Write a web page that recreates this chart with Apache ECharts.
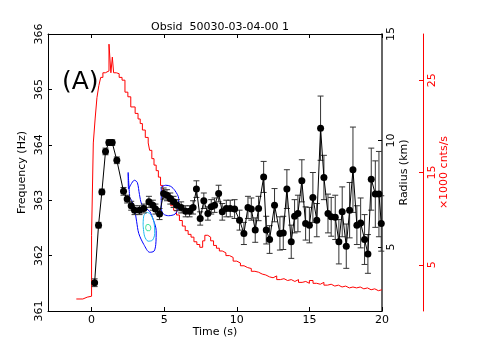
<!DOCTYPE html>
<html>
<head>
<meta charset="utf-8">
<script src="https://cdn.jsdelivr.net/npm/echarts@6/dist/echarts.min.js"></script>
<style>
  html, body { margin: 0; padding: 0; background: #fff; }
  #main { width: 479px; height: 346px; }
</style>
</head>
<body>
<div id="main"></div>
<script>
// burst oscillation frequency (black points) + count rate (red histogram)
var freqTime = [0.21, 0.48, 0.71, 0.96, 1.19, 1.42, 1.74, 2.2, 2.45, 2.73, 2.96, 3.3, 3.6, 3.95, 4.22, 4.4, 4.68, 4.96, 5.19, 5.42,
  5.65, 5.88, 6.17, 6.48, 6.75, 6.99, 7.22, 7.48, 7.73, 8.01, 8.24, 8.47, 8.75, 9.0, 9.28, 9.55, 9.85, 10.19, 10.49, 10.77,
  11.0, 11.27, 11.5, 11.85, 12.03, 12.26, 12.6, 12.97, 13.2, 13.45, 13.75, 13.98, 14.21, 14.48, 14.74, 15.0, 15.24, 15.51, 15.77, 16.0,
  16.28, 16.5, 16.78, 17.03, 17.26, 17.54, 17.77, 18.0, 18.27, 18.53, 18.8, 19.03, 19.26, 19.54, 19.79, 19.95]
var freqVal = [361.51, 362.55, 363.15, 363.88, 364.04, 364.04, 363.72, 363.16, 363.02, 362.9, 362.82, 362.82, 362.85, 362.97, 362.91, 362.84, 362.75, 363.12, 363.09, 363.03,
  362.97, 362.91, 362.87, 362.8, 362.8, 362.87, 363.2, 362.67, 362.99, 362.76, 362.88, 362.91, 363.12, 362.79, 362.85, 362.85, 362.84, 362.64, 362.4, 362.87,
  362.84, 362.46, 362.85, 363.42, 362.46, 362.29, 362.91, 362.4, 362.41, 363.2, 362.25, 362.71, 362.76, 363.35, 362.58, 362.55, 363.05, 362.64, 364.3, 363.41,
  362.76, 362.7, 362.69, 362.25, 362.79, 362.17, 362.82, 363.55, 362.55, 362.59, 362.29, 362.03, 363.38, 363.11, 363.11, 362.58]
var freqErr = [0.07, 0.05, 0.05, 0.06, 0.05, 0.05, 0.06, 0.07, 0.07, 0.08, 0.08, 0.08, 0.08, 0.1, 0.09, 0.09, 0.1, 0.1, 0.1, 0.1,
  0.1, 0.1, 0.1, 0.1, 0.1, 0.12, 0.15, 0.12, 0.14, 0.12, 0.13, 0.13, 0.15, 0.15, 0.15, 0.15, 0.17, 0.18, 0.2, 0.2,
  0.2, 0.22, 0.22, 0.28, 0.25, 0.25, 0.3, 0.3, 0.3, 0.35, 0.3, 0.3, 0.33, 0.38, 0.3, 0.32, 0.45, 0.3, 0.58, 0.4,
  0.35, 0.35, 0.4, 0.4, 0.45, 0.4, 0.5, 0.77, 0.35, 0.45, 0.45, 0.35, 0.56, 0.6, 0.77, 0.5]

// count rate (x1000 cnts/s), value held from each bin start
var rateTime = [-1.05, -0.6, -0.3, 0.0, 0.12, 0.25, 0.37, 0.5, 0.63, 0.78, 0.95, 1.2, 1.33, 1.43, 1.52, 1.7, 1.9, 2.1, 2.3, 2.5,
  2.7, 3.0, 3.2, 3.35, 3.5, 3.7, 3.9, 4.0, 4.15, 4.3, 4.45, 4.6, 4.75, 4.9, 5.05, 5.25, 5.45, 5.65, 5.85, 6.05,
  6.25, 6.45, 6.65, 6.85, 7.05, 7.25, 7.45, 7.65, 7.8, 8.0, 8.2, 8.4, 8.6, 8.8, 9.0, 9.25, 9.5, 9.75, 10.0, 10.25,
  10.5, 10.75, 11.0, 11.25, 11.5, 11.75, 12.0, 12.25, 12.5, 12.75, 13.0, 13.25, 13.5, 13.75, 14.0, 14.25, 14.5, 14.75, 15.0, 15.25,
  15.5, 15.75, 16.0, 16.25, 16.5, 16.75, 17.0, 17.25, 17.5, 17.75, 18.0, 18.25, 18.5, 18.75, 19.0, 19.25, 19.5, 19.75, 20.0]
var rateVal = [1.3, 1.5, 1.6, 8.2, 18.2, 20.9, 23.1, 24.4, 25.3, 25.8, 26.0, 28.9, 25.8, 27.5, 25.8, 25.7, 25.3, 25.0, 23.7, 23.2,
  22.1, 21.4, 20.8, 20.3, 19.6, 18.8, 18.2, 17.4, 16.5, 15.8, 15.2, 14.5, 13.6, 12.9, 12.3, 11.9, 11.4, 10.9, 10.4, 9.8,
  9.2, 8.7, 8.3, 8.0, 7.5, 7.2, 6.9, 7.6, 8.2, 8.0, 7.6, 7.1, 6.8, 6.5, 6.3, 6.0, 5.8, 5.4, 5.2, 4.9,
  4.7, 4.6, 4.3, 4.2, 4.0, 3.9, 3.7, 3.6, 3.8, 3.4, 3.5, 3.3, 3.4, 3.2, 3.4, 3.1, 3.2, 3.0, 3.3, 3.0,
  2.9, 3.1, 2.8, 2.9, 2.7, 2.8, 2.6, 2.7, 2.5, 2.6, 2.5, 2.6, 2.4, 2.5, 2.3, 2.4, 2.2, 2.3, 2.3]

// contours (time, frequency)
var contourBlueA = [[2.62, 363.05], [2.52, 363.5], [2.55, 363.2], [2.7, 363.28], [2.95, 363.36], [3.15, 363.32], [3.3, 363.1],
  [3.45, 362.93], [3.75, 362.85], [4.0, 362.8], [4.25, 362.65], [4.45, 362.45], [4.42, 362.2], [4.3, 362.08], [4.0, 362.06],
  [3.6, 362.2], [3.25, 362.4], [3.1, 362.62], [2.95, 362.85], [2.75, 363.0], [2.62, 363.05]]
var contourBlueB = [[4.8, 363.24], [5.1, 363.27], [5.45, 363.25], [5.75, 363.17], [6.0, 363.03], [5.95, 362.85], [5.75, 362.75],
  [5.3, 362.72], [4.95, 362.75], [4.8, 362.85], [4.8, 363.0], [4.8, 363.24]]
var contourCyan = [[3.55, 362.55], [3.6, 362.72], [3.8, 362.78], [4.05, 362.75], [4.3, 362.6], [4.35, 362.4], [4.2, 362.28],
  [3.9, 362.26], [3.65, 362.35], [3.55, 362.55]]
var contourGreen = [[3.72, 362.5], [3.8, 362.56], [3.95, 362.56], [4.08, 362.5], [4.0, 362.45], [3.82, 362.45], [3.72, 362.5]]

var timeTicks = [0, 5, 10, 15, 20]
var radiusTicks = [5, 10, 15]
var rateTicks = [5, 15, 25]

var font = 'DejaVu Sans'
var myChart = echarts.init(document.getElementById('main'))

var pts = freqTime.map(function (t, i) { return [t, freqVal[i], freqErr[i]] })
var rate = rateTime.map(function (t, i) { return [t, rateVal[i]] })

function contour(data, color) {
  return {
    type: 'line', data: data, xAxisIndex: 0, yAxisIndex: 0, showSymbol: false, smooth: 0.3,
    lineStyle: { color: color, width: 1 }, silent: true, z: 3
  }
}

myChart.setOption({
  animation: false,
  textStyle: { fontFamily: font },
  title: {
    text: 'Obsid  50030-03-04-00 1', left: 215, textAlign: 'center', top: 17,
    textStyle: { fontSize: 11, fontWeight: 'normal', color: '#000', fontFamily: font }
  },
  grid: { left: 48, right: 97, top: 34, bottom: 35 },
  graphic: [{
    type: 'text', left: 62, top: 70,
    style: { text: '(A)', fontSize: 25, fontFamily: font, fill: '#000' }
  }],
  xAxis: [
    {
      type: 'value', min: -3, max: 20, position: 'bottom',
      name: 'Time (s)', nameLocation: 'middle', nameGap: 16, nameMoveOverlap: false,
      nameTextStyle: { fontSize: 11, color: '#000' },
      axisLine: { onZero: false, lineStyle: { color: '#000', width: 1 } },
      axisTick: { inside: true, length: 4, customValues: timeTicks, lineStyle: { color: '#000' } },
      axisLabel: { customValues: timeTicks, fontSize: 11, color: '#000', margin: 4 },
      splitLine: { show: false }
    },
    {
      type: 'value', min: -3, max: 20, position: 'top',
      axisLine: { onZero: false, lineStyle: { color: '#000', width: 1 } },
      axisTick: { inside: true, length: 4, customValues: timeTicks, lineStyle: { color: '#000' } },
      axisLabel: { show: false },
      splitLine: { show: false }
    }
  ],
  yAxis: [
    {
      type: 'value', min: 361, max: 366, interval: 1, position: 'left',
      name: 'Frequency (Hz)', nameLocation: 'middle', nameRotate: 90, nameGap: 20, nameMoveOverlap: false,
      nameTextStyle: { fontSize: 11, color: '#000' },
      axisLine: { show: true, onZero: false, lineStyle: { color: '#000', width: 1 } },
      axisTick: { inside: true, length: 4, lineStyle: { color: '#000' } },
      axisLabel: { rotate: 90, fontSize: 11, color: '#000', margin: 3 },
      splitLine: { show: false }
    },
    {
      type: 'value', min: 2, max: 15, position: 'right',
      name: 'Radius (km)', nameLocation: 'middle', nameRotate: 90, nameGap: 17, nameMoveOverlap: false,
      nameTextStyle: { fontSize: 11, color: '#000' },
      axisLine: { show: true, onZero: false, lineStyle: { color: '#666', width: 2 } },
      axisTick: { inside: true, length: 4, customValues: radiusTicks, lineStyle: { color: '#000' } },
      axisLabel: { rotate: 90, customValues: radiusTicks, fontSize: 11, color: '#000', margin: 4 },
      splitLine: { show: false }
    },
    {
      type: 'value', min: 0, max: 30, position: 'right', offset: 41,
      name: '\u00d71000 cnts/s', nameLocation: 'middle', nameRotate: 90, nameGap: 16, nameMoveOverlap: false,
      nameTextStyle: { fontSize: 11, color: '#ff0000' },
      axisLine: { show: true, onZero: false, lineStyle: { color: '#ff0000', width: 1 } },
      axisTick: { inside: true, length: 4, customValues: rateTicks, lineStyle: { color: '#ff0000' } },
      axisLabel: { rotate: 90, customValues: rateTicks, fontSize: 11, color: '#ff0000', margin: 4 },
      splitLine: { show: false }
    }
  ],
  series: [
    {
      type: 'line', data: rate, xAxisIndex: 0, yAxisIndex: 2, step: 'end', showSymbol: false,
      lineStyle: { color: '#ff0000', width: 1 }, z: 2
    },
    contour(contourBlueA, '#0000ff'),
    contour(contourBlueB, '#0000ff'),
    contour(contourCyan, '#18b8f0'),
    contour(contourGreen, '#30e090'),
    {
      type: 'custom', data: pts, xAxisIndex: 0, yAxisIndex: 0, z: 4,
      encode: { x: 0, y: 1 },
      renderItem: function (params, api) {
        var x = api.value(0), y = api.value(1), e = api.value(2)
        var top = api.coord([x, y + e])
        var bot = api.coord([x, y - e])
        var w = 3
        var st = { stroke: '#333', lineWidth: 1 }
        return {
          type: 'group', children: [
            { type: 'line', shape: { x1: top[0], y1: top[1], x2: bot[0], y2: bot[1] }, style: st },
            { type: 'line', shape: { x1: top[0] - w, y1: top[1], x2: top[0] + w, y2: top[1] }, style: st },
            { type: 'line', shape: { x1: bot[0] - w, y1: bot[1], x2: bot[0] + w, y2: bot[1] }, style: st }
          ]
        }
      }
    },
    {
      type: 'line', data: pts.map(function (p) { return [p[0], p[1]] }), xAxisIndex: 0, yAxisIndex: 0,
      symbol: 'circle', symbolSize: 7, z: 5,
      lineStyle: { color: '#000', width: 1 }, itemStyle: { color: '#000' }
    }
  ]
})
</script>
</body>
</html>
